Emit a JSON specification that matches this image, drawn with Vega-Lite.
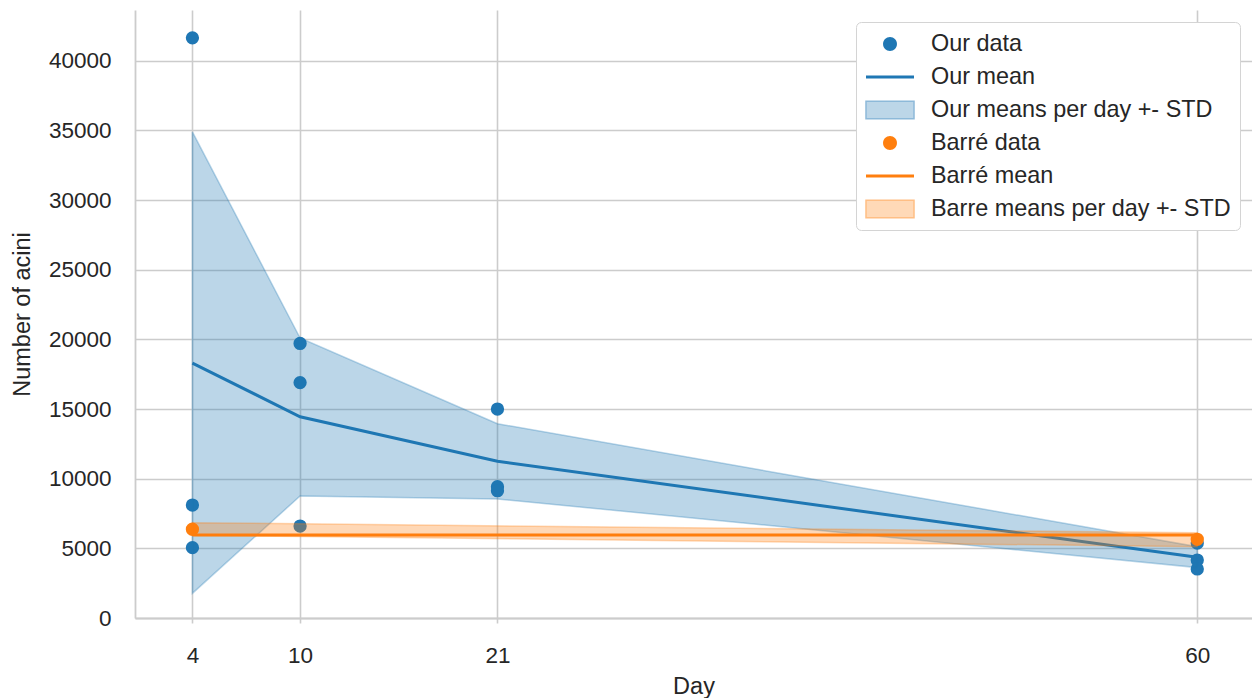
{
  "$schema": "https://vega.github.io/schema/vega-lite/v6.json",
  "autosize": "none",
  "padding": {"left": 135, "top": 10, "right": 0, "bottom": 80},
  "width": 1117,
  "height": 608,
  "background": "white",
  "config": {
    "font": "Liberation Sans",
    "view": {"stroke": null},
    "axis": {
      "labelFont": "Liberation Sans",
      "titleFont": "Liberation Sans",
      "labelFontSize": 22.5,
      "titleFontSize": 23.5,
      "titleFontWeight": "normal",
      "labelColor": "#262626",
      "titleColor": "#262626",
      "gridColor": "#cccccc",
      "gridWidth": 1.6,
      "domainColor": "#cccccc",
      "domainWidth": 1.8,
      "tickColor": "#cccccc",
      "tickWidth": 1.6
    }
  },
  "datasets": {
    "ourPoints": [
      {"day": 4, "value": 41650}, {"day": 4, "value": 8110}, {"day": 4, "value": 5050},
      {"day": 10, "value": 19710}, {"day": 10, "value": 16900}, {"day": 10, "value": 6600},
      {"day": 21, "value": 15000}, {"day": 21, "value": 9430}, {"day": 21, "value": 9140},
      {"day": 60, "value": 5380}, {"day": 60, "value": 4160}, {"day": 60, "value": 3520}
    ],
    "ourMean": [
      {"day": 4, "value": 18300}, {"day": 10, "value": 14450}, {"day": 21, "value": 11250}, {"day": 60, "value": 4360}
    ],
    "ourBand": [
      {"day": 4, "lo": 1770, "hi": 34900}, {"day": 10, "lo": 8760, "hi": 20100},
      {"day": 21, "lo": 8550, "hi": 13950}, {"day": 60, "lo": 3620, "hi": 5120}
    ],
    "barrePoints": [
      {"day": 4, "value": 6370}, {"day": 60, "value": 5650}
    ],
    "barreMean": [
      {"day": 4, "value": 5960}, {"day": 60, "value": 5960}
    ],
    "barreBand": [
      {"day": 4, "lo": 5940, "hi": 6840}, {"day": 60, "lo": 5120, "hi": 6120}
    ],
    "legendItems": [
      {"label": "Our data"}, {"label": "Our mean"}, {"label": "Our means per day +- STD"},
      {"label": "Barré data"}, {"label": "Barré mean"}, {"label": "Barre means per day +- STD"}
    ]
  },
  "encoding": {
    "x": {
      "field": "day", "type": "quantitative",
      "scale": {"domain": [0.8, 63.05], "nice": false, "zero": false},
      "axis": {"values": [4, 10, 21, 60], "grid": true, "ticks": true, "tickSize": 5, "labelPadding": 21, "title": "Day", "titlePadding": 8, "format": "d"}
    }
  },
  "layer": [
    {
      "data": {"name": "ourPoints"},
      "mark": {"type": "circle", "size": 177, "color": "#1f77b4", "opacity": 1},
      "encoding": {
        "y": {
          "field": "value", "type": "quantitative",
          "scale": {"domain": [0, 43650], "nice": false, "zero": false},
          "axis": {"values": [0, 5000, 10000, 15000, 20000, 25000, 30000, 35000, 40000], "grid": true, "ticks": false, "labelPadding": 24, "format": "d", "title": "Number of acini", "titlePadding": 14}
        }
      }
    },
    {
      "data": {"name": "ourMean"},
      "mark": {"type": "line", "color": "#1f77b4", "strokeWidth": 3},
      "encoding": {"y": {"field": "value", "type": "quantitative"}}
    },
    {
      "data": {"name": "ourBand"},
      "mark": {"type": "area", "fill": "#1f77b4", "fillOpacity": 0.3, "stroke": "#1f77b4", "strokeOpacity": 0.3, "strokeWidth": 1.5},
      "encoding": {"y": {"field": "lo", "type": "quantitative"}, "y2": {"field": "hi"}}
    },
    {
      "data": {"name": "barrePoints"},
      "mark": {"type": "circle", "size": 177, "color": "#ff7f0e", "opacity": 1},
      "encoding": {"y": {"field": "value", "type": "quantitative"}}
    },
    {
      "data": {"name": "barreMean"},
      "mark": {"type": "line", "color": "#ff7f0e", "strokeWidth": 3.2},
      "encoding": {"y": {"field": "value", "type": "quantitative"}}
    },
    {
      "data": {"name": "barreBand"},
      "mark": {"type": "area", "fill": "#ff7f0e", "fillOpacity": 0.3, "stroke": "#ff7f0e", "strokeOpacity": 0.3, "strokeWidth": 1.5},
      "encoding": {"y": {"field": "lo", "type": "quantitative"}, "y2": {"field": "hi"}}
    },
    {
      "data": {"name": "legendItems"},
      "mark": {"type": "point", "filled": true, "opacity": 0},
      "encoding": {
        "x": {"datum": 4},
        "y": {"datum": 0},
        "color": {
          "field": "label", "type": "nominal",
          "scale": {
            "domain": ["Our data", "Our mean", "Our means per day +- STD", "Barré data", "Barré mean", "Barre means per day +- STD"],
            "range": ["#1f77b4", "#1f77b4", "#bcd6e8", "#ff7f0e", "#ff7f0e", "#ffd9b7"]
          },
          "legend": {
            "title": null,
            "orient": "top-right",
            "offset": 12,
            "padding": 9,
            "fillColor": "white",
            "strokeColor": "#d4d4d4",
            "cornerRadius": 5,
            "labelFont": "Liberation Sans",
            "labelFontSize": 23.4,
            "labelColor": "#262626",
            "labelOffset": 28,
            "symbolSize": 576,
            "symbolOffset": 12,
            "symbolOpacity": 1,
            "symbolStrokeWidth": 0,
            "rowPadding": 8,
            "labelLimit": 400,
            "encode": {
              "symbols": {
                "update": {
                  "stroke": {"signal": "datum.value == 'Our means per day +- STD' ? '#8db9d9' : (datum.value == 'Barre means per day +- STD' ? '#ffbe84' : null)"},
                  "strokeWidth": {"value": 1.5}
                }
              }
            }
          }
        },
        "shape": {
          "field": "label", "type": "nominal",
          "scale": {
            "domain": ["Our data", "Our mean", "Our means per day +- STD", "Barré data", "Barré mean", "Barre means per day +- STD"],
            "range": [
              "M-0.58,0A0.58,0.58,0,1,1,0.58,0A0.58,0.58,0,1,1,-0.58,0Z",
              "M-2,-0.125H2V0.125H-2Z",
              "M-2,-0.72H2V0.72H-2Z",
              "M-0.58,0A0.58,0.58,0,1,1,0.58,0A0.58,0.58,0,1,1,-0.58,0Z",
              "M-2,-0.125H2V0.125H-2Z",
              "M-2,-0.72H2V0.72H-2Z"
            ]
          }
        }
      }
    }
  ]
}
